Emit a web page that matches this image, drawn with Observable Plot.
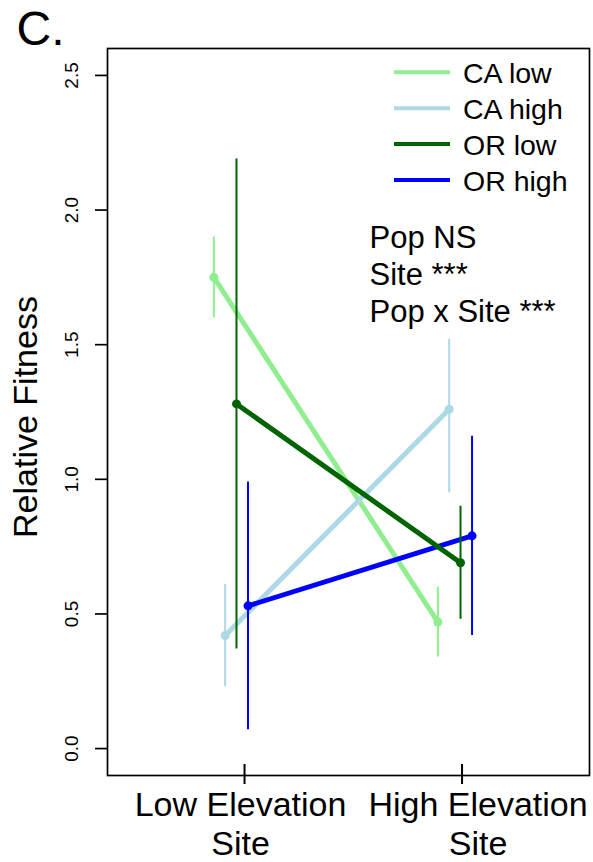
<!DOCTYPE html>
<html><head><meta charset="utf-8">
<script src="https://cdn.jsdelivr.net/npm/d3@7"></script>
<script src="https://cdn.jsdelivr.net/npm/@observablehq/plot@0.6"></script>
<style>body{margin:0;background:#fff}</style>
</head><body><div id="chart"></div>
<script>
const populations = ["CA low", "CA high", "OR low", "OR high"];
const siteLabels = ["Low Elevation\nSite", "High Elevation\nSite"];
const meanLowSite = [1.75, 0.42, 1.28, 0.53];
const meanHighSite = [0.47, 1.26, 0.69, 0.79];
const upperLowSite = [1.90, 0.61, 2.19, 0.99];
const upperHighSite = [0.60, 1.52, 0.90, 1.16];
const lowerLowSite = [1.60, 0.23, 0.37, 0.07];
const lowerHighSite = [0.34, 0.95, 0.48, 0.42];
const yTicks = [0, 0.5, 1, 1.5, 2, 2.5];
const statsLines = ["Pop NS", "Site ***", "Pop x Site ***"];
const panelLetter = "C.";
const yTitle = "Relative Fitness";

// styling / layout constants
const colors = ["#90EE90", "#ADD8E6", "#006400", "#0000FF"];
const dodge = [-0.141, -0.089, -0.037, 0.016];
const siteShift = [0, 0.03];
const lineOrder = [0, 1, 3, 2];
const font = "'Liberation Sans', Arial, Helvetica, sans-serif";

const rows = [];
populations.forEach((p, i) => {
  rows.push({pop: p, pi: i, site: 1, x: 1 + dodge[i] + siteShift[0], mean: meanLowSite[i], lo: lowerLowSite[i], hi: upperLowSite[i]});
  rows.push({pop: p, pi: i, site: 2, x: 2 + dodge[i] + siteShift[1], mean: meanHighSite[i], lo: lowerHighSite[i], hi: upperHighSite[i]});
});

function legendMark(index, scales, values, dims) {
  const g = d3.create("svg:g").attr("font-family", font).attr("text-anchor", "start");
  const x0 = dims.width - dims.marginRight - 195;
  populations.forEach((p, i) => {
    const y = dims.marginTop + 24.3 + i * 35.9;
    g.append("line").attr("x1", x0).attr("x2", x0 + 56).attr("y1", y).attr("y2", y)
      .attr("stroke", colors[i]).attr("stroke-width", 4);
    g.append("text").attr("x", x0 + 69).attr("y", y + 11).attr("font-size", 28.5)
      .attr("text-anchor", "start").attr("fill", "black").text(p);
  });
  return g.node();
}

const lineMarks = lineOrder.map(i => Plot.line(rows.filter(d => d.pi === i), {
  x: "x", y: "mean", stroke: colors[i], strokeWidth: 5
}));

const chart = Plot.plot({
  width: 593,
  height: 862,
  marginLeft: 107,
  marginRight: 4,
  marginTop: 48,
  marginBottom: 87,
  style: {fontFamily: font, background: "white", color: "black"},
  x: {domain: [0.37, 2.586], axis: null},
  y: {domain: [-0.1, 2.6], axis: null},
  marks: [
    ...lineMarks,
    Plot.dot(rows, {x: "x", y: "mean", fill: d => colors[d.pi], r: 4.5}),
    Plot.ruleX(rows, {x: "x", y1: "lo", y2: "hi", stroke: d => colors[d.pi], strokeWidth: 2}),
    Plot.frame({stroke: "black", strokeWidth: 1.7}),
    Plot.axisY({ticks: yTicks, tickSize: 12, tickFormat: () => "", strokeWidth: 1.7, label: null}),
    Plot.text(yTicks, {y: d => d, text: d => d3.format(".1f")(d), frameAnchor: "left", dx: -29.7, rotate: -90, lineAnchor: "bottom", textAnchor: "middle", fontSize: 19, fill: "black"}),
    Plot.axisX({ticks: [1, 2], tickSize: 20, dy: -11, tickFormat: () => "", strokeWidth: 2, label: null}),
    Plot.text([siteLabels[0]], {x: () => 1, text: d => d, frameAnchor: "bottom", dx: -4, dy: 79, lineAnchor: "bottom", lineHeight: 1.12, fontSize: 34, fill: "black"}),
    Plot.text([siteLabels[1]], {x: () => 2, text: d => d, frameAnchor: "bottom", dx: 16, dy: 79, lineAnchor: "bottom", lineHeight: 1.12, fontSize: 34, fill: "black"}),
    Plot.text([yTitle], {frameAnchor: "left", dx: -70.3, dy: 5, rotate: -90, lineAnchor: "bottom", textAnchor: "middle", fontSize: 34, fill: "black"}),
    Plot.text([panelLetter], {frameAnchor: "top-left", dx: -91, dy: -4, textAnchor: "start", lineAnchor: "bottom", fontSize: 48, fill: "black"}),
    Plot.text([statsLines.join("\n")], {frameAnchor: "top-left", dx: 262, dy: 273.7, textAnchor: "start", lineAnchor: "bottom", lineHeight: 1.19, fontSize: 31, fill: "black"}),
    legendMark
  ]
});
document.getElementById("chart").appendChild(chart);
</script>
</body></html>
